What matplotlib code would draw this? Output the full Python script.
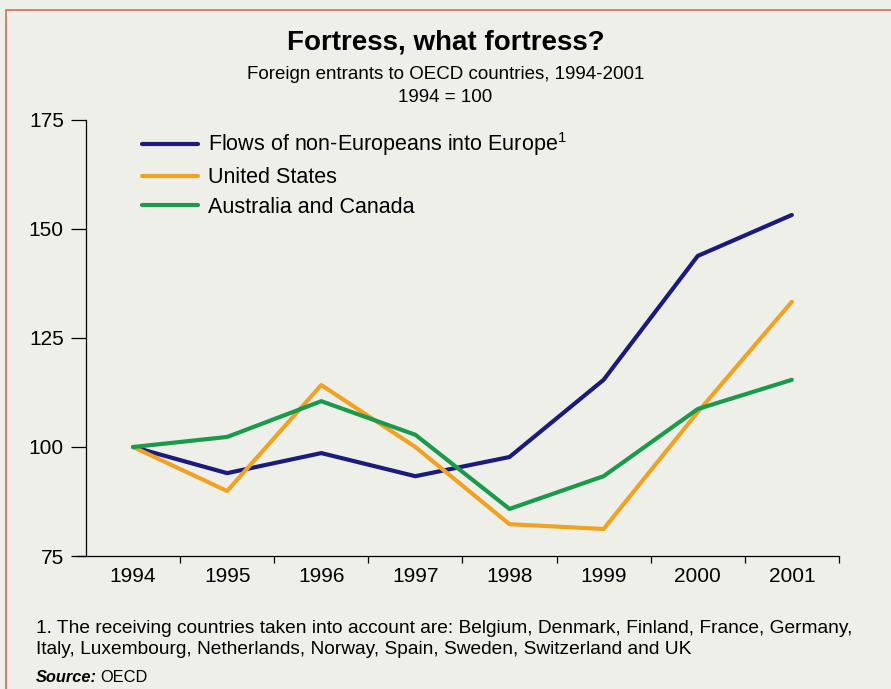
import matplotlib.pyplot as plt
from matplotlib.patches import Rectangle

plt.rcParams['font.family'] = ['Liberation Sans', 'DejaVu Sans']

years = [1994, 1995, 1996, 1997, 1998, 1999, 2000, 2001]
europe = [100, 94.0, 98.6, 93.3, 97.7, 115.4, 143.8, 153.2]
usa = [100, 89.9, 114.2, 100.0, 82.3, 81.2, 108.0, 133.3]
aus_can = [100, 102.3, 110.5, 102.8, 85.8, 93.3, 108.7, 115.4]

labels = ['Flows of non-Europeans into Europe$^{\\mathregular{1}}$', 'United States', 'Australia and Canada']
colors = ['#1b1b7e', '#f0a323', '#1a9a4a']

bg = '#efefea'
fig = plt.figure(figsize=(8.91, 6.89), dpi=100, facecolor=bg)
ax = fig.add_axes([0.0965, 0.193, 0.845, 0.633], facecolor=bg)

# scan frame
fig.patches.append(Rectangle((0.007, -0.01), 1.2, 0.995, transform=fig.transFigure,
                             fill=False, edgecolor='#d46a5a', lw=1.2))

for vals, lab, c in zip([europe, usa, aus_can], labels, colors):
    ax.plot(years, vals, color=c, lw=3.0, label=lab, solid_capstyle='round')

ax.set_xlim(1993.5, 2001.5)
ax.set_ylim(75, 175)
ax.set_yticks([75, 100, 125, 150, 175])
ax.set_xticks(years)
ax.set_xticklabels([str(y) for y in years])
ax.set_xticks([y + 0.5 for y in years], minor=True)
ax.tick_params(axis='x', which='major', length=0, pad=8, labelsize=15)
ax.tick_params(axis='x', which='minor', length=5, width=0.9, direction='out')
ax.tick_params(axis='y', length=11, width=0.9, labelsize=15, pad=5)
ax.spines['top'].set_visible(False)
ax.spines['right'].set_visible(False)
ax.spines['left'].set_linewidth(0.9)
ax.spines['bottom'].set_linewidth(0.9)
ax.spines['bottom'].set_bounds(1993.4, 2001.5)

ax.legend(loc='upper left', bbox_to_anchor=(0.055, 1.01), frameon=False, fontsize=15.5,
          handlelength=2.6, handletextpad=0.45, labelspacing=0.4, borderaxespad=0.3)

fig.text(0.5, 0.928, 'Fortress, what fortress?', ha='center', fontsize=20, weight='bold')
fig.text(0.5, 0.885, 'Foreign entrants to OECD countries, 1994-2001', ha='center', fontsize=13.5)
fig.text(0.5, 0.852, '1994 = 100', ha='center', fontsize=13.5)

fig.text(0.04, 0.0813, '1. The receiving countries taken into account are: Belgium, Denmark, Finland, France, Germany,',
         fontsize=13.8, va='baseline')
fig.text(0.04, 0.0508, 'Italy, Luxembourg, Netherlands, Norway, Spain, Sweden, Switzerland and UK',
         fontsize=13.8, va='baseline')
fig.text(0.04, 0.0102, 'Source:', fontsize=11.8, style='italic', weight='bold', va='baseline')
fig.text(0.112, 0.0102, 'OECD', fontsize=11.8, va='baseline')

fig.savefig('out.png', dpi=100, facecolor=bg)
